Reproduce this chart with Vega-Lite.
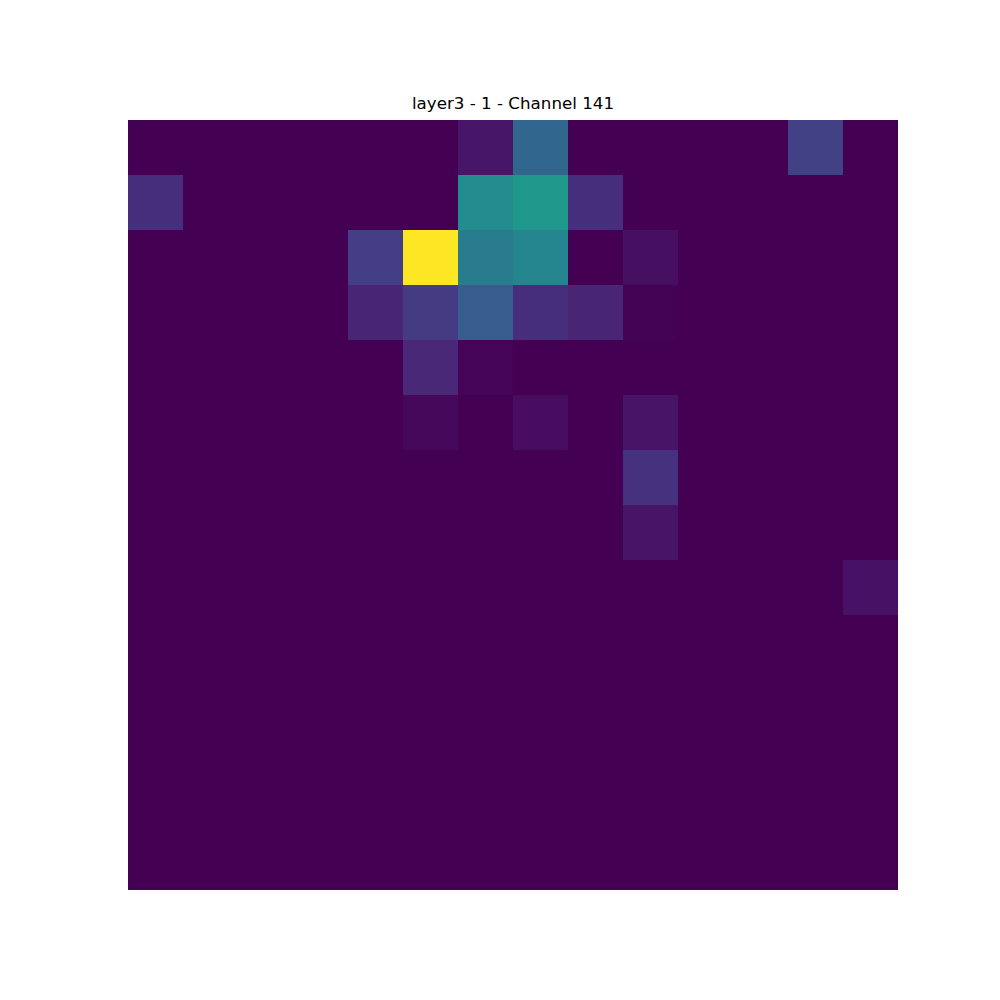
{
  "$schema": "https://vega.github.io/schema/vega-lite/v6.json",
  "width": 770,
  "height": 770,
  "autosize": {"type": "none"},
  "padding": {"left": 128, "top": 120, "right": 102, "bottom": 110},
  "background": "white",
  "title": {"text": "layer3 - 1 - Channel 141", "font": "DejaVu Sans", "fontSize": 16.7, "fontWeight": "normal", "color": "black", "offset": 7},
  "view": {"stroke": null},
  "data": {"values": [
    {"r":0,"c":0,"v":0},{"r":0,"c":1,"v":0},{"r":0,"c":2,"v":0},{"r":0,"c":3,"v":0},{"r":0,"c":4,"v":0},{"r":0,"c":5,"v":0},{"r":0,"c":6,"v":0.055},{"r":0,"c":7,"v":0.33},{"r":0,"c":8,"v":0},{"r":0,"c":9,"v":0},{"r":0,"c":10,"v":0},{"r":0,"c":11,"v":0},{"r":0,"c":12,"v":0.19},{"r":0,"c":13,"v":0},
    {"r":1,"c":0,"v":0.13},{"r":1,"c":1,"v":0},{"r":1,"c":2,"v":0},{"r":1,"c":3,"v":0},{"r":1,"c":4,"v":0},{"r":1,"c":5,"v":0},{"r":1,"c":6,"v":0.48},{"r":1,"c":7,"v":0.53},{"r":1,"c":8,"v":0.13},{"r":1,"c":9,"v":0},{"r":1,"c":10,"v":0},{"r":1,"c":11,"v":0},{"r":1,"c":12,"v":0},{"r":1,"c":13,"v":0},
    {"r":2,"c":0,"v":0},{"r":2,"c":1,"v":0},{"r":2,"c":2,"v":0},{"r":2,"c":3,"v":0},{"r":2,"c":4,"v":0.18},{"r":2,"c":5,"v":1.0},{"r":2,"c":6,"v":0.41},{"r":2,"c":7,"v":0.45},{"r":2,"c":8,"v":0},{"r":2,"c":9,"v":0.035},{"r":2,"c":10,"v":0},{"r":2,"c":11,"v":0},{"r":2,"c":12,"v":0},{"r":2,"c":13,"v":0},
    {"r":3,"c":0,"v":0},{"r":3,"c":1,"v":0},{"r":3,"c":2,"v":0},{"r":3,"c":3,"v":0},{"r":3,"c":4,"v":0.1},{"r":3,"c":5,"v":0.17},{"r":3,"c":6,"v":0.29},{"r":3,"c":7,"v":0.13},{"r":3,"c":8,"v":0.1},{"r":3,"c":9,"v":0.006},{"r":3,"c":10,"v":0},{"r":3,"c":11,"v":0},{"r":3,"c":12,"v":0},{"r":3,"c":13,"v":0},
    {"r":4,"c":0,"v":0},{"r":4,"c":1,"v":0},{"r":4,"c":2,"v":0},{"r":4,"c":3,"v":0},{"r":4,"c":4,"v":0},{"r":4,"c":5,"v":0.11},{"r":4,"c":6,"v":0.008},{"r":4,"c":7,"v":0},{"r":4,"c":8,"v":0},{"r":4,"c":9,"v":0},{"r":4,"c":10,"v":0},{"r":4,"c":11,"v":0},{"r":4,"c":12,"v":0},{"r":4,"c":13,"v":0},
    {"r":5,"c":0,"v":0},{"r":5,"c":1,"v":0},{"r":5,"c":2,"v":0},{"r":5,"c":3,"v":0},{"r":5,"c":4,"v":0},{"r":5,"c":5,"v":0.018},{"r":5,"c":6,"v":0},{"r":5,"c":7,"v":0.032},{"r":5,"c":8,"v":0},{"r":5,"c":9,"v":0.05},{"r":5,"c":10,"v":0},{"r":5,"c":11,"v":0},{"r":5,"c":12,"v":0},{"r":5,"c":13,"v":0},
    {"r":6,"c":0,"v":0},{"r":6,"c":1,"v":0},{"r":6,"c":2,"v":0},{"r":6,"c":3,"v":0},{"r":6,"c":4,"v":0},{"r":6,"c":5,"v":0},{"r":6,"c":6,"v":0},{"r":6,"c":7,"v":0},{"r":6,"c":8,"v":0},{"r":6,"c":9,"v":0.14},{"r":6,"c":10,"v":0},{"r":6,"c":11,"v":0},{"r":6,"c":12,"v":0},{"r":6,"c":13,"v":0},
    {"r":7,"c":0,"v":0},{"r":7,"c":1,"v":0},{"r":7,"c":2,"v":0},{"r":7,"c":3,"v":0},{"r":7,"c":4,"v":0},{"r":7,"c":5,"v":0},{"r":7,"c":6,"v":0},{"r":7,"c":7,"v":0},{"r":7,"c":8,"v":0},{"r":7,"c":9,"v":0.05},{"r":7,"c":10,"v":0},{"r":7,"c":11,"v":0},{"r":7,"c":12,"v":0},{"r":7,"c":13,"v":0},
    {"r":8,"c":0,"v":0},{"r":8,"c":1,"v":0},{"r":8,"c":2,"v":0},{"r":8,"c":3,"v":0},{"r":8,"c":4,"v":0},{"r":8,"c":5,"v":0},{"r":8,"c":6,"v":0},{"r":8,"c":7,"v":0},{"r":8,"c":8,"v":0},{"r":8,"c":9,"v":0},{"r":8,"c":10,"v":0},{"r":8,"c":11,"v":0},{"r":8,"c":12,"v":0},{"r":8,"c":13,"v":0.045},
    {"r":9,"c":0,"v":0},{"r":9,"c":1,"v":0},{"r":9,"c":2,"v":0},{"r":9,"c":3,"v":0},{"r":9,"c":4,"v":0},{"r":9,"c":5,"v":0},{"r":9,"c":6,"v":0},{"r":9,"c":7,"v":0},{"r":9,"c":8,"v":0},{"r":9,"c":9,"v":0},{"r":9,"c":10,"v":0},{"r":9,"c":11,"v":0},{"r":9,"c":12,"v":0},{"r":9,"c":13,"v":0},
    {"r":10,"c":0,"v":0},{"r":10,"c":1,"v":0},{"r":10,"c":2,"v":0},{"r":10,"c":3,"v":0},{"r":10,"c":4,"v":0},{"r":10,"c":5,"v":0},{"r":10,"c":6,"v":0},{"r":10,"c":7,"v":0},{"r":10,"c":8,"v":0},{"r":10,"c":9,"v":0},{"r":10,"c":10,"v":0},{"r":10,"c":11,"v":0},{"r":10,"c":12,"v":0},{"r":10,"c":13,"v":0},
    {"r":11,"c":0,"v":0},{"r":11,"c":1,"v":0},{"r":11,"c":2,"v":0},{"r":11,"c":3,"v":0},{"r":11,"c":4,"v":0},{"r":11,"c":5,"v":0},{"r":11,"c":6,"v":0},{"r":11,"c":7,"v":0},{"r":11,"c":8,"v":0},{"r":11,"c":9,"v":0},{"r":11,"c":10,"v":0},{"r":11,"c":11,"v":0},{"r":11,"c":12,"v":0},{"r":11,"c":13,"v":0},
    {"r":12,"c":0,"v":0},{"r":12,"c":1,"v":0},{"r":12,"c":2,"v":0},{"r":12,"c":3,"v":0},{"r":12,"c":4,"v":0},{"r":12,"c":5,"v":0},{"r":12,"c":6,"v":0},{"r":12,"c":7,"v":0},{"r":12,"c":8,"v":0},{"r":12,"c":9,"v":0},{"r":12,"c":10,"v":0},{"r":12,"c":11,"v":0},{"r":12,"c":12,"v":0},{"r":12,"c":13,"v":0},
    {"r":13,"c":0,"v":0},{"r":13,"c":1,"v":0},{"r":13,"c":2,"v":0},{"r":13,"c":3,"v":0},{"r":13,"c":4,"v":0},{"r":13,"c":5,"v":0},{"r":13,"c":6,"v":0},{"r":13,"c":7,"v":0},{"r":13,"c":8,"v":0},{"r":13,"c":9,"v":0},{"r":13,"c":10,"v":0},{"r":13,"c":11,"v":0},{"r":13,"c":12,"v":0},{"r":13,"c":13,"v":0}
  ]},
  "mark": {"type": "rect", "strokeWidth": 0},
  "encoding": {
    "x": {"field": "c", "type": "ordinal", "axis": null, "scale": {"paddingInner": 0, "paddingOuter": 0}},
    "y": {"field": "r", "type": "ordinal", "axis": null, "scale": {"paddingInner": 0, "paddingOuter": 0}},
    "color": {"field": "v", "type": "quantitative", "scale": {"scheme": "viridis", "domain": [0, 1]}, "legend": null}
  }
}
